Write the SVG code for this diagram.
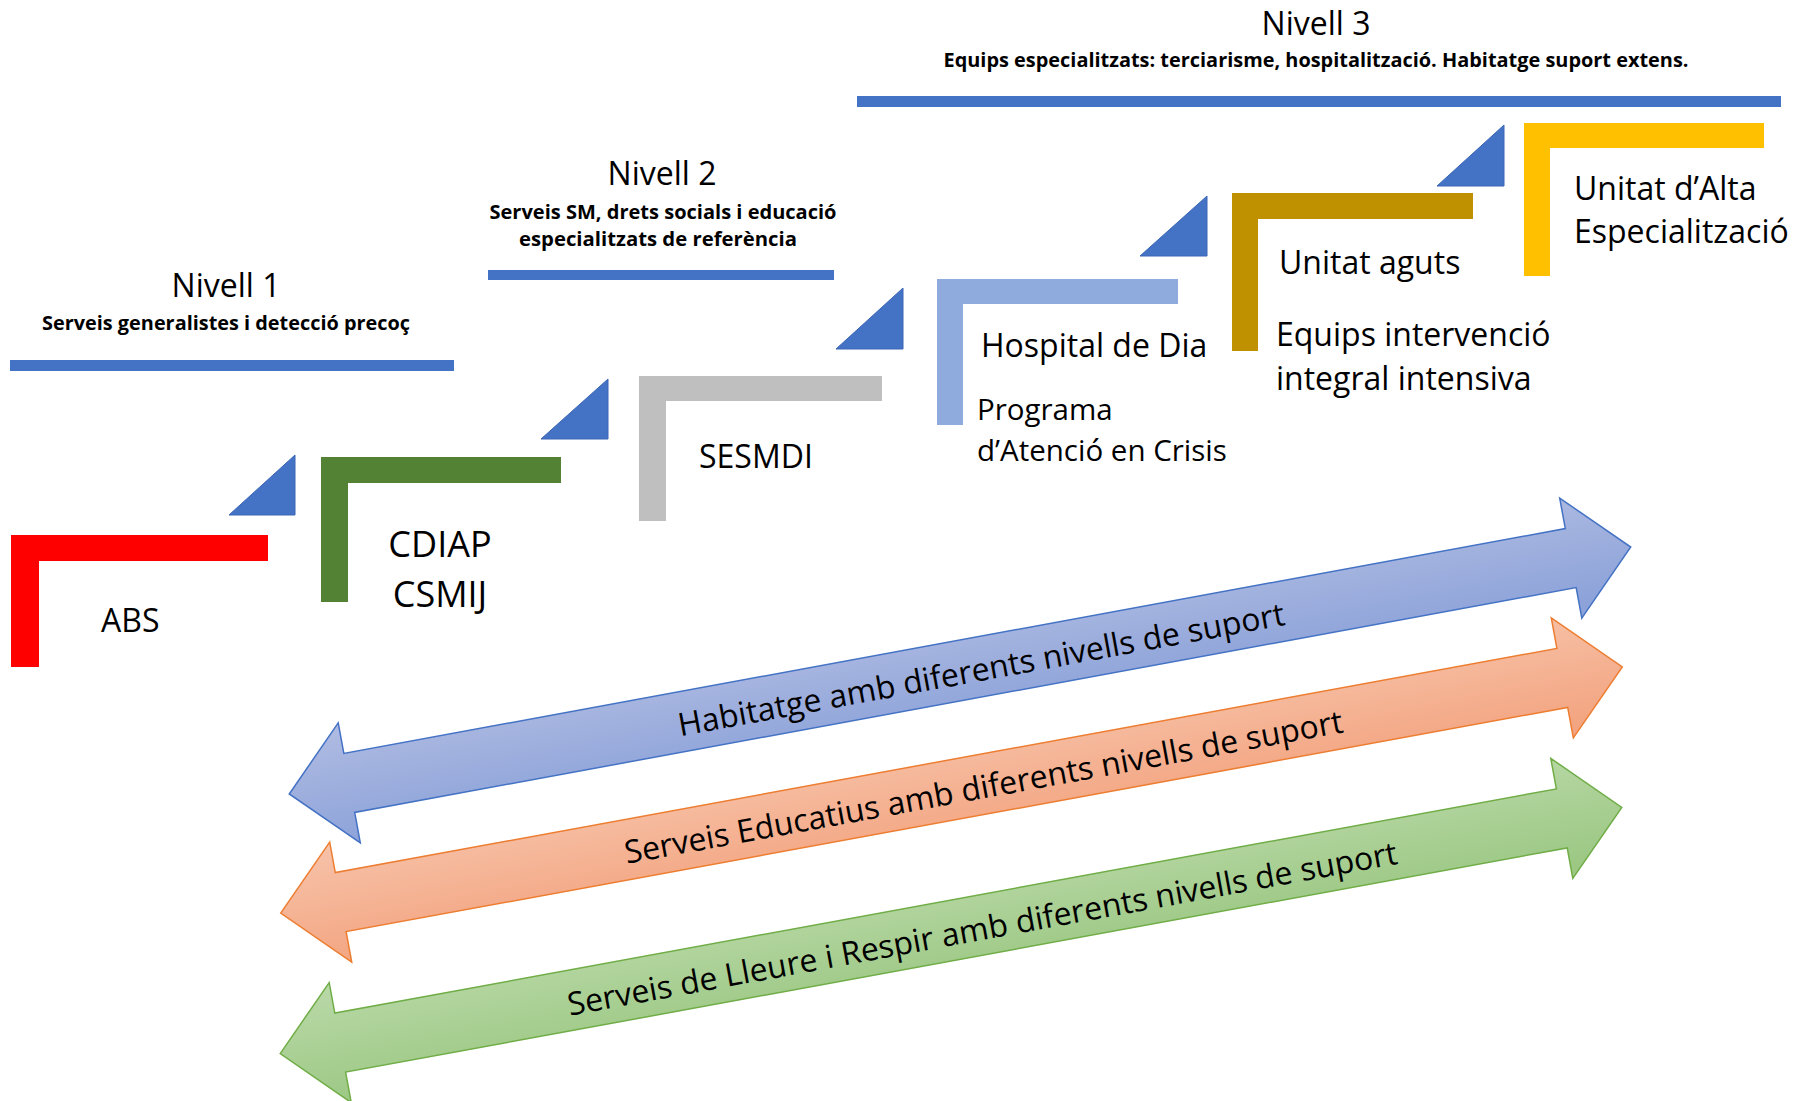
<svg xmlns="http://www.w3.org/2000/svg" width="1812" height="1101" viewBox="0 0 1812 1101">
  <defs>
    <style>
      .t { font-family: "Open Sans", "Noto Sans", "Liberation Sans", sans-serif; fill: #000; }
      .title { font-size: 32px; }
      .sub { font-size: 20px; font-weight: bold; }
      .lbl { font-size: 32px; }
      .bar { fill: #4472C4; }
      .tri { fill: #4472C4; stroke: #3A66B5; stroke-width: 1; }
      .arrowtxt { font-size: 32px; }
    </style>
    <linearGradient id="gBlue" x1="0" y1="0" x2="0.15" y2="1">
      <stop offset="0" stop-color="#B0BCE2"/>
      <stop offset="1" stop-color="#8CA2D9"/>
    </linearGradient>
    <linearGradient id="gOrange" x1="0" y1="0" x2="0.15" y2="1">
      <stop offset="0" stop-color="#F7C3AA"/>
      <stop offset="1" stop-color="#F3A581"/>
    </linearGradient>
    <linearGradient id="gGreen" x1="0" y1="0" x2="0.15" y2="1">
      <stop offset="0" stop-color="#BAD9A8"/>
      <stop offset="1" stop-color="#9CC884"/>
    </linearGradient>
    <path id="dblArrow" d="M -682,0 L -621,-61 L -621,-30 L 621,-30 L 621,-61 L 682,0 L 621,61 L 621,30 L -621,30 L -621,61 Z"/>
  </defs>
  <rect x="0" y="0" width="1812" height="1101" fill="#FFFFFF"/>

  <!-- Level headers -->
  <g id="nivell1">
    <text class="t title" x="226" y="297" text-anchor="middle">Nivell 1</text>
    <text class="t sub" x="226" y="330" text-anchor="middle" textLength="368" lengthAdjust="spacingAndGlyphs">Serveis generalistes i detecció precoç</text>
    <rect class="bar" x="10" y="360" width="444" height="11"/>
  </g>
  <g id="nivell2">
    <text class="t title" x="662" y="185" text-anchor="middle">Nivell 2</text>
    <text class="t sub" x="663" y="219" text-anchor="middle" textLength="347" lengthAdjust="spacingAndGlyphs">Serveis SM, drets socials i educació</text>
    <text class="t sub" x="658" y="246" text-anchor="middle" textLength="278" lengthAdjust="spacingAndGlyphs">especialitzats de referència</text>
    <rect class="bar" x="488" y="270" width="346" height="10"/>
  </g>
  <g id="nivell3">
    <text class="t title" x="1316" y="35" text-anchor="middle">Nivell 3</text>
    <text class="t sub" x="1316" y="67" text-anchor="middle" textLength="745" lengthAdjust="spacingAndGlyphs">Equips especialitzats: terciarisme, hospitalització. Habitatge suport extens.</text>
    <rect class="bar" x="857" y="96" width="924" height="11"/>
  </g>

  <!-- Step nodes -->
  <g id="abs">
    <path d="M 11,535 H 268 V 561 H 39 V 667 H 11 Z" fill="#FF0000"/>
    <text class="t lbl" x="101" y="632">ABS</text>
  </g>
  <g id="cdiap">
    <path d="M 321,457 H 561 V 483 H 348 V 602 H 321 Z" fill="#548235"/>
    <text class="t" style="font-size:36px" x="440" y="557" text-anchor="middle">CDIAP</text>
    <text class="t" style="font-size:36px" x="440" y="607" text-anchor="middle">CSMIJ</text>
  </g>
  <g id="sesmdi">
    <path d="M 639,376 H 882 V 401 H 666 V 521 H 639 Z" fill="#BFBFBF"/>
    <text class="t lbl" x="699" y="468">SESMDI</text>
  </g>
  <g id="hospital">
    <path d="M 937,279 H 1178 V 304 H 963 V 425 H 937 Z" fill="#8FAADC"/>
    <text class="t lbl" x="981" y="357">Hospital de Dia</text>
    <text class="t" style="font-size:29.5px" x="977" y="420">Programa</text>
    <text class="t" style="font-size:29.5px" x="977" y="461">d’Atenció en Crisis</text>
  </g>
  <g id="aguts">
    <path d="M 1232,193 H 1473 V 219 H 1258 V 351 H 1232 Z" fill="#BF9000"/>
    <text class="t lbl" x="1279" y="274">Unitat aguts</text>
    <text class="t lbl" x="1276" y="346">Equips intervenció</text>
    <text class="t lbl" x="1276" y="390">integral intensiva</text>
  </g>
  <g id="alta">
    <path d="M 1524,123 H 1764 V 148 H 1550 V 276 H 1524 Z" fill="#FFC000"/>
    <text class="t lbl" x="1574" y="200">Unitat d’Alta</text>
    <text class="t lbl" x="1574" y="243">Especialització</text>
  </g>

  <!-- Connectors: step triangles and support arrows -->
  <g id="connectors">
    <polygon class="tri" points="229,515 295,515 295,455"/>
    <polygon class="tri" points="541,439 608,439 608,379"/>
    <polygon class="tri" points="836,349 903,349 903,288"/>
    <polygon class="tri" points="1140,256 1207,256 1207,196"/>
    <polygon class="tri" points="1437,186 1504,186 1504,125"/>

    <g id="arrow-habitatge" transform="translate(960,670.5) rotate(-10.43)">
      <use href="#dblArrow" fill="url(#gBlue)" stroke="#4472C4" stroke-width="1.5"/>
      <text class="t arrowtxt" x="21" y="14" text-anchor="middle">Habitatge amb diferents nivells de suport</text>
    </g>
    <g id="arrow-educatius" transform="translate(951.5,790) rotate(-10.4)">
      <use href="#dblArrow" fill="url(#gOrange)" stroke="#ED7D31" stroke-width="1.5"/>
      <text class="t arrowtxt" x="32" y="14" text-anchor="middle">Serveis Educatius amb diferents nivells de suport</text>
    </g>
    <g id="arrow-lleure" transform="translate(951,930.5) rotate(-10.4)">
      <use href="#dblArrow" fill="url(#gGreen)" stroke="#70AD47" stroke-width="1.5"/>
      <text class="t arrowtxt" x="31" y="15" text-anchor="middle">Serveis de Lleure i Respir amb diferents nivells de suport</text>
    </g>
  </g>
</svg>
